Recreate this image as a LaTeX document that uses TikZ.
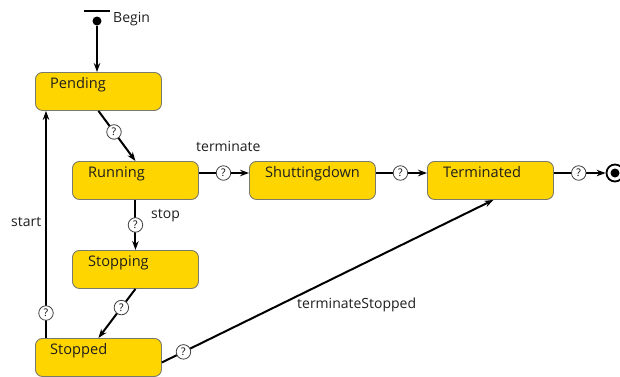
\documentclass[tikz,border=0pt]{standalone}
\usepackage{fontspec}
\setmainfont{Open Sans}
\usetikzlibrary{arrows.meta,calc}
\definecolor{stfill}{HTML}{FFD500}
\definecolor{stborder}{HTML}{7A7A6A}
\definecolor{txt}{HTML}{1E1E1E}
\tikzset{
  statebox/.style={draw=stborder, line width=0.9pt, fill=stfill, rounded corners=7pt,
    minimum width=126pt, minimum height=38pt, inner sep=0pt, anchor=north west},
  stname/.style={anchor=base west, inner sep=0pt, text=txt, font=\fontsize{14.6}{17}\selectfont},
  lbl/.style={inner sep=0pt, text=txt, font=\fontsize{14}{16}\selectfont},
  conn/.style={line width=2pt, -{Stealth[length=9pt,width=6.5pt]}},
  qm/.style={circle, draw=black!75, line width=0.8pt, fill=white, inner sep=0pt,
    minimum size=14.5pt, font=\fontsize{10.5}{10.5}\selectfont}
}
\begin{document}
\begin{tikzpicture}[x=1pt,y=-1pt]
\useasboundingbox (0,0) rectangle (620,376);
% initial
\node[draw=none, fill=black, minimum width=26pt, minimum height=2.6pt, inner sep=0pt] (bar) at (97,11) {};
\node[circle, fill=black, minimum size=9pt, inner sep=0pt] (init) at (97,21) {};
\node[lbl, anchor=west] (beginL) at (113,19) {Begin};
% states
\node[statebox] (pending) at (35,72) {};
\node[statebox] (running) at (72,161) {};
\node[statebox] (shut) at (249,161) {};
\node[statebox] (term) at (427,161) {};
\node[statebox] (stopping) at (72,250) {};
\node[statebox] (stopped) at (35,338) {};
\node[stname] (pendingT) at ($(pending.north west)+(15,16)$) {Pending};
\node[stname] (runningT) at ($(running.north west)+(16,16)$) {Running};
\node[stname] (shutT) at ($(shut.north west)+(16,16)$) {Shuttingdown};
\node[stname] (termT) at ($(term.north west)+(16,16)$) {Terminated};
\node[stname] (stoppingT) at ($(stopping.north west)+(16,16)$) {Stopping};
\node[stname] (stoppedT) at ($(stopped.north west)+(15,16)$) {Stopped};
% final
\node[circle, draw=black, line width=1.8pt, fill=white, minimum size=17pt, inner sep=0pt] (final) at (615,173) {};
\node[circle, fill=black, minimum size=9pt, inner sep=0pt] (finalDot) at (final.center) {};
% connectors
\draw[conn] (init) -- (init |- pending.north);
\draw[conn] (pending.south) -- node[qm, pos=0.42] (q1) {?} (running.north);
\draw[conn] ([yshift=-12pt]running.north east) -- node[qm, pos=0.49] (q2) {?} ([yshift=-12pt]shut.north west);
\draw[conn] ([yshift=-12pt]shut.north east) -- node[qm, pos=0.48] (q3) {?} ([yshift=-12pt]term.north west);
\draw[conn] ([yshift=-12pt]term.north east) -- node[qm, pos=0.48] (q4) {?} (final.west);
\draw[conn] (running.south) -- node[qm, pos=0.5] (q5) {?} (stopping.north);
\draw[conn] (stopping.south) -- node[qm, pos=0.38] (q6) {?} (stopped.north);
\draw[conn] ([xshift=11pt]stopped.north west) -- node[qm, pos=0.11] (q7) {?} ([xshift=11pt]pending.south west);
\draw[conn] ([yshift=-5pt]stopped.east) -- node[qm, pos=0.065] (q8) {?} ([xshift=3pt]term.south);
% labels
\node[lbl, anchor=west] (terminateL) at (196,146) {terminate};
\node[lbl, anchor=west] (stopL) at (151,216) {stop};
\node[lbl, anchor=west] (startL) at (11,222) {start};
\node[lbl, anchor=west] (termStopL) at (297,305) {terminateStopped};
\end{tikzpicture}
\end{document}
